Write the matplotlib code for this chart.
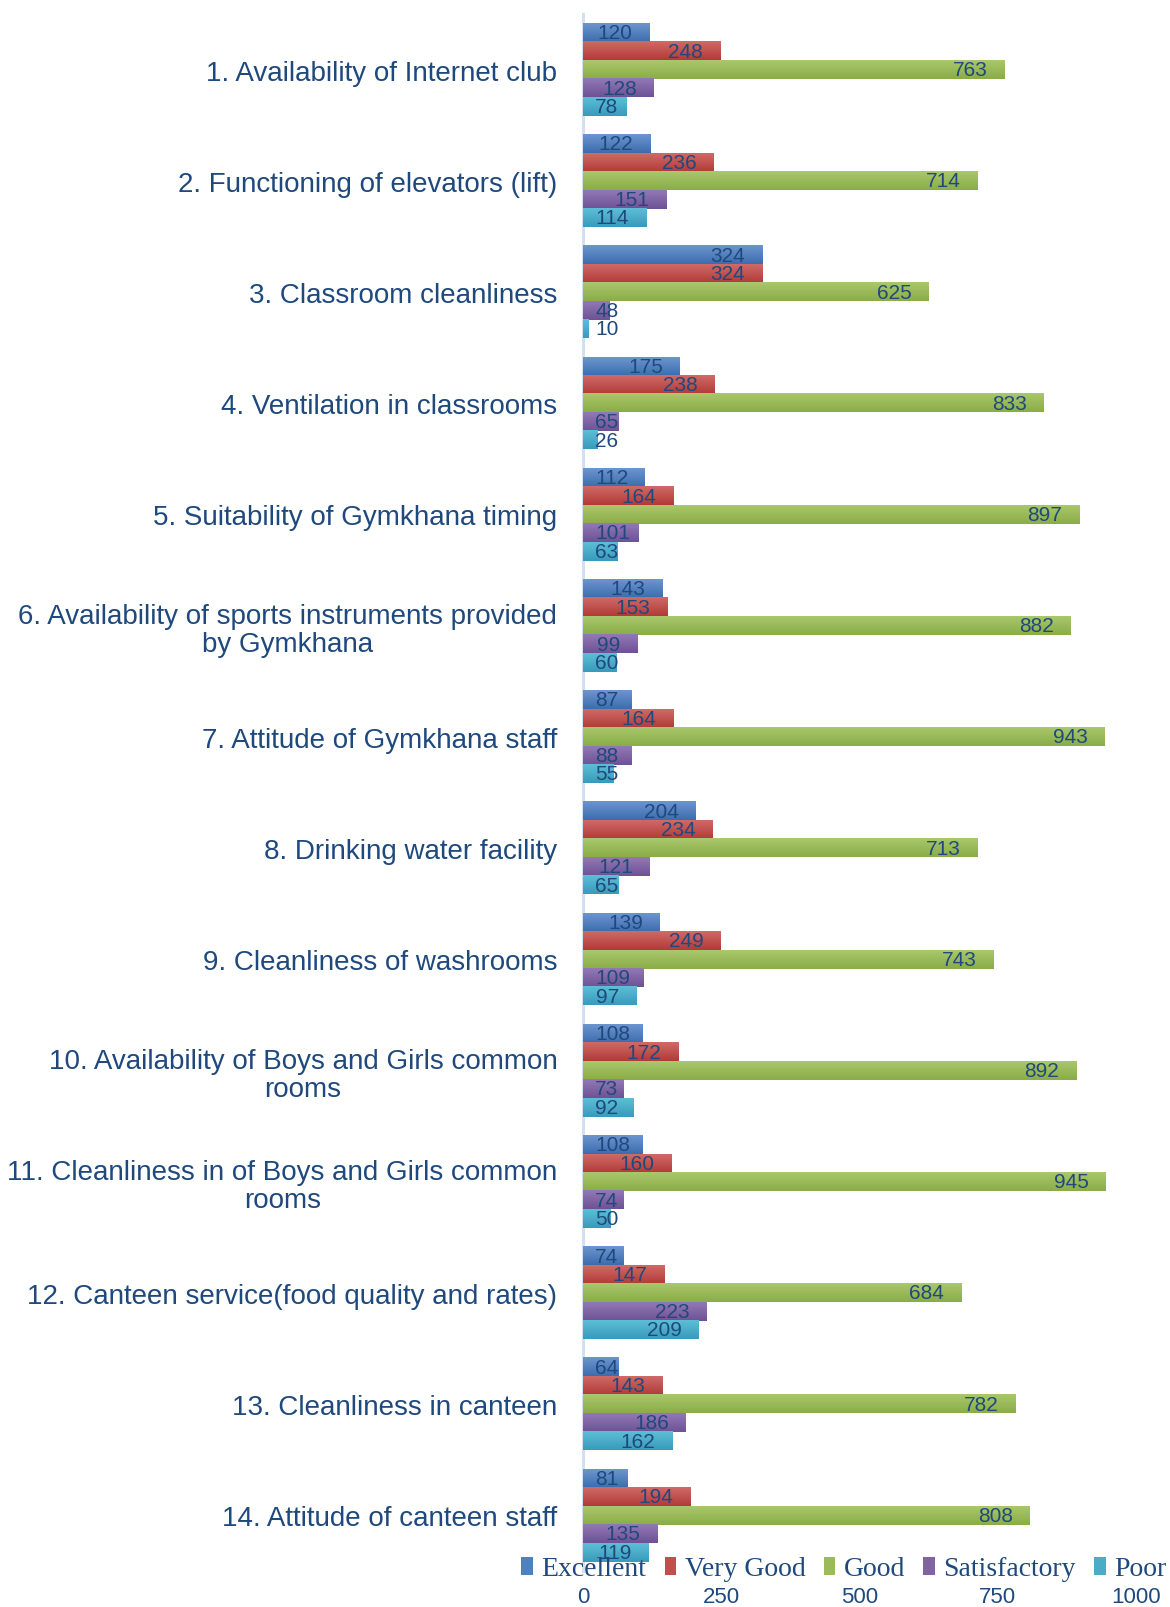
import numpy as np
import matplotlib
matplotlib.use("Agg")
import matplotlib.pyplot as plt
from matplotlib.colors import LinearSegmentedColormap

categories = [
    "1. Availability of Internet club",
    "2. Functioning of elevators (lift)",
    "3. Classroom cleanliness",
    "4. Ventilation in classrooms",
    "5. Suitability of Gymkhana timing",
    "6. Availability of sports instruments provided\nby Gymkhana",
    "7. Attitude of Gymkhana staff",
    "8. Drinking water facility",
    "9. Cleanliness of washrooms",
    "10. Availability of Boys and Girls common\nrooms",
    "11. Cleanliness in of Boys and Girls common\nrooms",
    "12. Canteen service(food quality and rates)",
    "13. Cleanliness in canteen",
    "14. Attitude of canteen staff",
]
series_names = ["Excellent", "Very Good", "Good", "Satisfactory", "Poor"]
excellent = [120, 122, 324, 175, 112, 143, 87, 204, 139, 108, 108, 74, 64, 81]
very_good = [248, 236, 324, 238, 164, 153, 164, 234, 249, 172, 160, 147, 143, 194]
good = [763, 714, 625, 833, 897, 882, 943, 713, 743, 892, 945, 684, 782, 808]
satisfactory = [128, 151, 48, 65, 101, 99, 88, 121, 109, 73, 74, 223, 186, 135]
poor = [78, 114, 10, 26, 63, 60, 55, 65, 97, 92, 50, 209, 162, 119]
x_ticks = [0, 250, 500, 750, 1000]

series = [excellent, very_good, good, satisfactory, poor]
top_colors = ["#6C95CF", "#CF6A67", "#A9C76C", "#9279B6", "#5DBED6"]
bot_colors = ["#3D6DAE", "#B23B38", "#8AAD47", "#6F5295", "#389BBB"]
mid_colors = ["#4F81BD", "#C0504D", "#9BBB59", "#8064A2", "#4BACC6"]
text_color = "#1F497D"

W, H, DPI = 1170, 1608, 100
fig = plt.figure(figsize=(W / DPI, H / DPI), dpi=DPI)
ax = fig.add_axes([583 / W, 1 - 1572 / H, (1136 - 583) / W, (1572 - 15) / H])

n = len(categories)
y = np.arange(n)
h = 0.166
containers = []
for k, (vals, name) in enumerate(zip(series, series_names)):
    offs = (k - 2) * h
    bc = ax.barh(y + offs, vals, height=h, color=mid_colors[k], label=name, zorder=2)
    containers.append(bc)
    cmap = LinearSegmentedColormap.from_list(f"g{k}", [top_colors[k], bot_colors[k]])
    grad = np.linspace(0, 1, 32).reshape(-1, 1)
    for p in bc.patches:
        x0, y0, w, hh = p.get_x(), p.get_y(), p.get_width(), p.get_height()
        ax.imshow(grad, extent=(x0, x0 + w, y0 + hh, y0), origin="upper",
                  aspect="auto", cmap=cmap, zorder=3, interpolation="bilinear")

ax.set_xlim(0, 1000)
ax.set_ylim(n - 0.5, -0.5)
ax.set_xticks(x_ticks)
ax.set_xticklabels([str(t) for t in x_ticks], fontsize=16, color=text_color,
                   family="Liberation Sans")
ax.set_yticks(y)
ax.set_yticklabels(categories, fontsize=20, color=text_color,
                   family="Liberation Sans", ha="right", multialignment="center",
                   linespacing=1.1)
ax.tick_params(axis="y", length=0, pad=18.5)
ax.tick_params(axis="x", length=0, pad=10.5)
for s in ["top", "right", "bottom"]:
    ax.spines[s].set_visible(False)
ax.spines["left"].set_color("#D3E0F1")
ax.spines["left"].set_linewidth(2.2)
ax.spines["left"].set_zorder(1)

# value labels
fig.canvas.draw()
renderer = fig.canvas.get_renderer()
axis_px = ax.transData.transform((0, 0))[0]
for k, bc in enumerate(containers):
    for p, v in zip(bc.patches, series[k]):
        yc = p.get_y() + p.get_height() / 2
        t = ax.annotate(str(v), xy=(v, yc), xytext=(-17 * 72 / DPI, 0),
                        textcoords="offset points", ha="right", va="center",
                        fontsize=15, color=text_color, family="Liberation Sans",
                        zorder=5)
        bb = t.get_window_extent(renderer)
        if bb.x0 < axis_px + 12:
            t.remove()
            ax.annotate(str(v), xy=(0, yc), xytext=(12 * 72 / DPI, 0),
                        textcoords="offset points", ha="left", va="center",
                        fontsize=15, color=text_color, family="Liberation Sans",
                        zorder=5)

leg = fig.legend(handles=containers, labels=series_names, loc="center",
                 bbox_to_anchor=(844 / W, 1 - 1570 / H), ncol=5, frameon=False,
                 prop={"family": "Liberation Serif", "size": 20},
                 handlelength=0.42, handleheight=0.6, handletextpad=0.3,
                 columnspacing=0.66, borderpad=0, borderaxespad=0)
for t in leg.get_texts():
    t.set_color(text_color)

fig.savefig("out.png", dpi=DPI)
